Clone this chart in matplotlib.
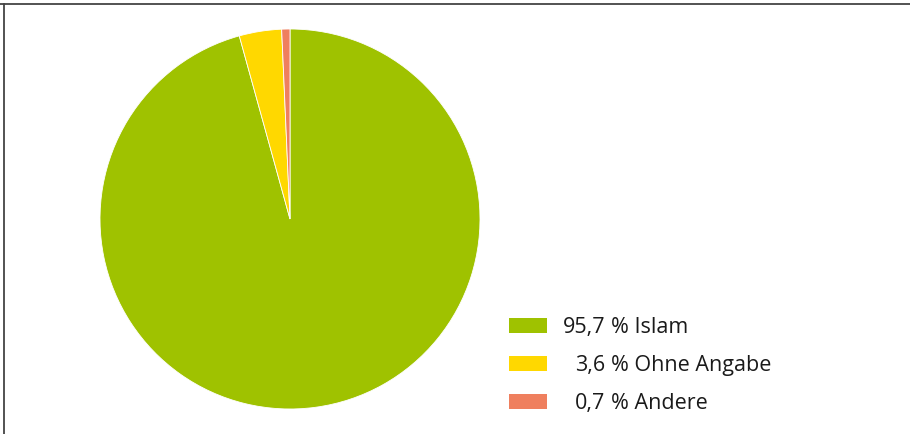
import matplotlib
matplotlib.use('Agg')
import matplotlib.pyplot as plt
from matplotlib.patches import Rectangle
from matplotlib.lines import Line2D

# data
values = [95.7, 3.6, 0.7]
value_labels = ["95,7", "3,6", "0,7"]
names = ["Islam", "Ohne Angabe", "Andere"]
colors = ["#9fc200", "#ffd800", "#ef7f5e"]

W, H = 910, 435
plt.rcParams['font.family'] = ['Open Sans', 'DejaVu Sans']

fig = plt.figure(figsize=(W / 100, H / 100), dpi=100)
ax = fig.add_axes([100 / W, 25 / H, 380 / W, 380 / H])
ax.pie(values, colors=colors, startangle=90, counterclock=False,
       wedgeprops=dict(linewidth=0.6, edgecolor='white'))
ax.set_xlim(-1, 1)
ax.set_ylim(-1, 1)
ax.set_aspect('equal')
ax.axis('off')

# legend, drawn by hand so the numbers line up on the comma
rows_y = [326, 364, 402]
for i in range(len(values)):
    y = rows_y[i]
    fig.patches.append(Rectangle((509 / W, 1 - (y + 8) / H), 38 / W, 15 / H,
                                 transform=fig.transFigure, facecolor=colors[i],
                                 edgecolor='none'))
    fig.text(605 / W, 1 - (y + 1.5) / H, value_labels[i], ha='right', va='center',
             fontsize=15.5, color='#1a1a1a')
    fig.text(611 / W, 1 - (y + 1.5) / H, "% " + names[i], ha='left', va='center',
             fontsize=15.5, color='#1a1a1a')

# frame (top and left only visible)
fig.lines.append(Line2D([0, 1], [1 - 4.5 / H, 1 - 4.5 / H], transform=fig.transFigure,
                        color='#444444', linewidth=1.3))
fig.lines.append(Line2D([3.5 / W, 3.5 / W], [0, 1 - 4.5 / H], transform=fig.transFigure,
                        color='#444444', linewidth=1.3))

plt.savefig('out.png', dpi=100)
